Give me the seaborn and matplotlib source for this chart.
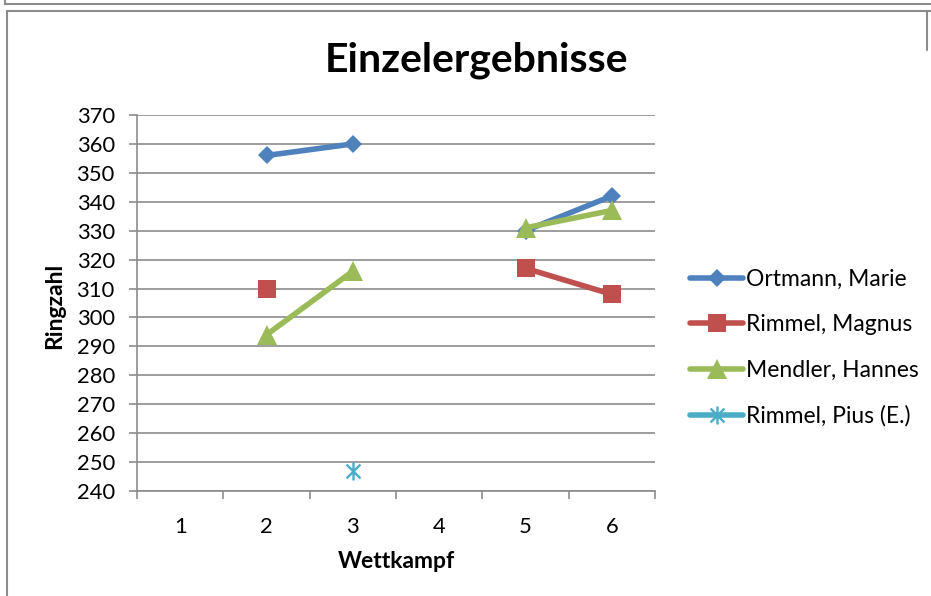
import numpy as np
import pandas as pd
import matplotlib
matplotlib.use("Agg")
import matplotlib.pyplot as plt
from matplotlib.lines import Line2D
from matplotlib.path import Path
import seaborn as sns

# Daten (Ringzahl je Wettkampf, NaN = nicht geschossen)
wettkampf = [1, 2, 3, 4, 5, 6]
namen = ["Ortmann, Marie", "Rimmel, Magnus", "Mendler, Hannes", "Rimmel, Pius (E.)"]
ortmann = [np.nan, 356, 360, np.nan, 330, 342]
rimmel_magnus = [np.nan, 310, np.nan, np.nan, 317, 308]
mendler = [np.nan, 294, 316, np.nan, 331, 337]
rimmel_pius = [np.nan, np.nan, 247, np.nan, np.nan, np.nan]
y_ticks = list(range(240, 371, 10))

werte = [ortmann, rimmel_magnus, mendler, rimmel_pius]
farben = ["#4F81BD", "#C0504D", "#9BBB59", "#4BACC6"]

# Sternchen wie in Excel: X plus senkrechter Strich
stern = Path([(-1, -1), (1, 1), (-1, 1), (1, -1), (0, -1.3), (0, 1.3)],
             [Path.MOVETO, Path.LINETO, Path.MOVETO, Path.LINETO, Path.MOVETO, Path.LINETO])
marker = ["D", "s", "^", stern]
msize = [9.5, 13, 14, 13]

sns.set_theme(style="white")
plt.rcParams['font.family'] = ['Lato', 'DejaVu Sans']
plt.rcParams['text.color'] = 'black'
plt.rcParams['axes.labelcolor'] = 'black'

fig = plt.figure(figsize=(9.31, 5.96), dpi=100)
ax = fig.add_axes([137 / 931, 1 - 491 / 596, 518 / 931, 376 / 596])

handles = []
for name, w, c, m, ms in zip(namen, werte, farben, marker, msize):
    df = pd.DataFrame({"Wettkampf": wettkampf, "Ringzahl": w})
    # Abschnitte trennen, damit Lücken nicht verbunden werden
    df["seg"] = df["Ringzahl"].isna().cumsum()
    df = df.dropna()
    mew = 1.7 if m is stern else 0
    sns.lineplot(data=df, x="Wettkampf", y="Ringzahl", units="seg", estimator=None,
                 color=c, linewidth=4, marker=m, markersize=ms,
                 markeredgecolor=c, markeredgewidth=mew, legend=False, ax=ax)
    handles.append(Line2D([0], [0], color=c, linewidth=4, marker=m, markersize=ms,
                          markeredgecolor=c, markeredgewidth=mew,
                          solid_capstyle="round"))

ax.set_xlim(0.5, 6.5)
ax.set_ylim(240, 370)
ax.set_yticks(y_ticks)
ax.set_xticks(np.arange(0.5, 7, 1))
ax.set_xticklabels([])
ax.set_xticks(wettkampf, minor=True)
ax.set_xticklabels([str(k) for k in wettkampf], minor=True)
ax.set_xlabel("")
ax.set_ylabel("")

grau = "#8C8C8C"
ax.grid(axis="y", color=grau, linewidth=1.2)
ax.grid(axis="x", visible=False)
for s in ["top", "right"]:
    ax.spines[s].set_visible(False)
for s in ["left", "bottom"]:
    ax.spines[s].set_color(grau)
    ax.spines[s].set_linewidth(1.2)
ax.tick_params(axis="y", which="major", left=True, length=6, width=1.2, color=grau,
               labelsize=15.8, pad=10, labelcolor="black")
ax.tick_params(axis="x", which="major", bottom=True, length=6, width=1.2, color=grau)
ax.tick_params(axis="x", which="minor", bottom=True, length=0, labelsize=15.8, pad=19,
               labelcolor="black")

fig.text(476 / 931, 1 - 60 / 596, "Einzelergebnisse", ha="center", va="center",
         fontsize=29.5, fontweight="bold")
fig.text(396 / 931, 1 - 561 / 596, "Wettkampf", ha="center", va="center",
         fontsize=16.5, fontweight="bold")
fig.text(55 / 931, 1 - 306 / 596, "Ringzahl", ha="center", va="center",
         rotation=90, fontsize=16.5, fontweight="bold")

fig.legend(handles, namen, loc="center left", bbox_to_anchor=(681 / 931, 1 - 348 / 596),
           frameon=False, fontsize=16.5, handlelength=2.3, handletextpad=0.15,
           labelspacing=1.07, borderaxespad=0)

# Rahmen wie im Screenshot
rahmen = "#8C8C8C"
fig.add_artist(Line2D([5 / 931, 1], [1 - 3.5 / 596, 1 - 3.5 / 596], color=rahmen, lw=1.5))
fig.add_artist(Line2D([5 / 931, 5 / 931], [1, 1 - 3.5 / 596], color=rahmen, lw=1.5))
fig.add_artist(Line2D([6.5 / 931, 1], [1 - 11 / 596, 1 - 11 / 596], color=rahmen, lw=1.5))
fig.add_artist(Line2D([6.5 / 931, 6.5 / 931], [0, 1 - 11 / 596], color=rahmen, lw=1.5))
fig.add_artist(Line2D([927 / 931, 927 / 931], [1 - 11 / 596, 1 - 50 / 596], color=rahmen, lw=1.5))

fig.savefig("out.png", dpi=100)
